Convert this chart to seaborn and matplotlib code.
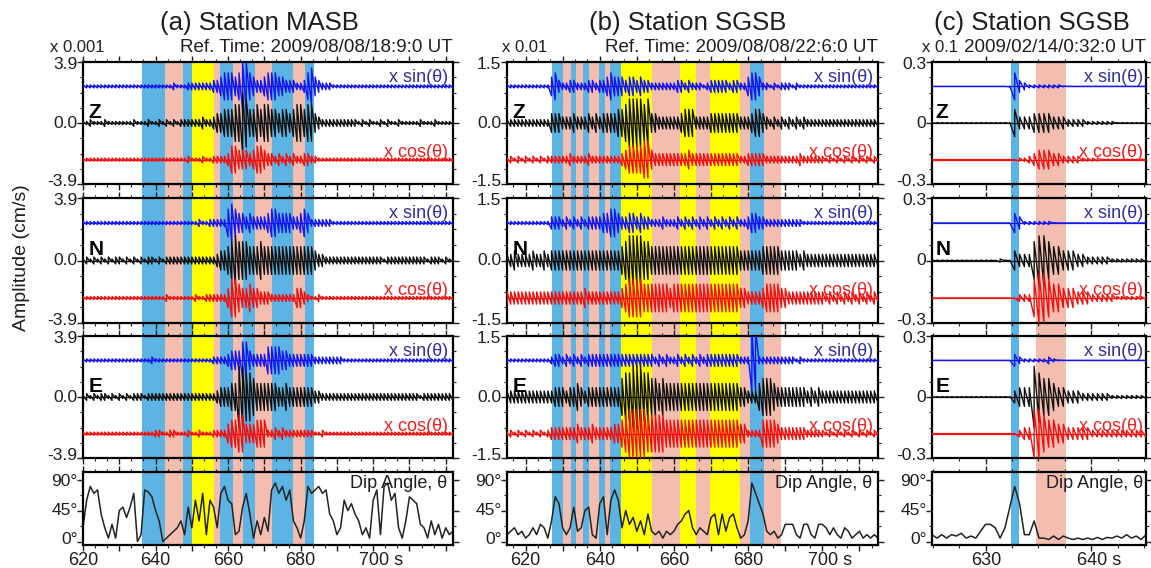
import numpy as np
import matplotlib
matplotlib.use("Agg")
import matplotlib.pyplot as plt
from matplotlib.ticker import FixedLocator, FixedFormatter, MultipleLocator, NullFormatter
import seaborn as sns

sns.set_theme(style="ticks")
plt.rcParams["font.family"] = ["Liberation Sans", "DejaVu Sans"]

# ----- Data -----
# sample times (s after reference time)
t_a = np.arange(620, 723)
t_b = np.arange(615, 716)
t_c = 624.9 + 0.4614 * np.arange(45)

# trace envelopes (min/max per sample), one digit per sample
a_z_sin = "2222222222" "2222222222" "2222232223" "3333334456" "6656886544" "5666554443" "3467543332" "2222222222" "2222222222" "2222222222" "222"
a_z_raw = "2232223222" "2222322232" "2323232333" "3334334556" "6677986676" "7766566567" "7677543333" "3333332323" "2232322322" "2223222322" "222"
a_z_cos = "2222222222" "2222222222" "2222222223" "2223223333" "4665554566" "5443434343" "3443322222" "2222222222" "2222222222" "2222222222" "222"
a_n_sin = "2222222222" "2222222222" "2222222222" "2232233333" "6765545444" "4566555544" "5653333332" "2222222222" "2222222222" "2222222222" "222"
a_n_raw = "2323232323" "3232323233" "2323333333" "3333333455" "6787776667" "6666666666" "6666544333" "3333333333" "3332333333" "3333323332" "322"
a_n_cos = "2222222222" "2222222222" "2223222222" "2322333333" "5776556554" "4433333335" "5432232222" "2222222222" "2222222222" "2222222222" "222"
a_e_sin = "2222222222" "2222222223" "2222222222" "2222223333" "4555775444" "4666655444" "4444333333" "3322222222" "2222222222" "2222222222" "222"
a_e_raw = "2323233232" "3232333233" "3333333333" "3333333455" "5669988766" "6666556555" "5555443333" "3333333333" "3333333333" "3332333333" "333"
a_e_cos = "2222222222" "2222222222" "3322332223" "2232223333" "5667755566" "6334343333" "3333223222" "2222222222" "2222222222" "2222222222" "222"

b_z_sin = "22222" "2222222564" "3344333443" "4456555455" "4544333333" "3443433323" "4444434433" "5665332323" "3323222222" "2222222222" "222222"
b_z_raw = "33333" "3333333555" "4445444545" "4555566788" "8878554444" "4456664444" "5555555544" "4566543434" "3434343333" "3333333333" "333333"
b_z_cos = "23232" "3232323333" "3343333433" "3333334566" "6677544444" "4444544444" "4444444433" "4444433333" "3333433333" "3232323232" "323232"
b_n_sin = "22222" "2222222444" "3434343444" "4556654455" "4544333433" "3434343434" "3434343433" "4554433333" "3333322222" "2222222222" "222222"
b_n_raw = "44544" "4454454555" "5555555555" "5555556788" "8877666666" "6666666666" "6666666655" "5555666665" "5555454444" "4444444444" "444444"
b_n_cos = "44444" "4444444444" "4444445444" "4444445677" "7766666665" "6666666666" "6666666655" "4444566665" "5444444444" "4343434343" "434343"
b_e_sin = "22222" "2222222344" "3434343444" "4444444444" "4444434343" "3434343434" "4444444433" "3993333333" "3332322222" "2222222222" "222222"
b_e_raw = "44444" "4444444455" "5455654555" "5555557889" "9988776766" "6666666666" "6666666655" "4446777655" "5555554545" "4444444444" "444444"
b_e_cos = "23232" "3232323444" "4444544454" "4444556788" "8887777766" "6666666666" "6666666655" "3333666654" "4444443333" "3232323232" "323232"

c_z_sin = "0000000000000000" "164322222221" "00000000000000000"
c_z_raw = "1111111111111111" "1644455554443333222222" "1111111"
c_z_cos = "000000000000000000" "22345554433332222" "1111111111"
c_n_sin = "00000000000000000" "542222221" "0000000000000000000"
c_n_raw = "11111111111111" "211544478876655544333332" "2222222"
c_n_cos = "000000000000000000" "33378876655544433333" "2222222"
c_e_sin = "00000000000000000" "4322222321" "000000000000000000"
c_e_raw = "11111111111111111" "455598776554443333332" "2222222"
c_e_cos = "000000000000000000" "3448876655444443" "33333333333"

# dip angle (degrees)
dip_a = [20, 60, 80, 70, 75, 40, 20, 5, 25, 5,
         45, 50, 35, 50, 70, 0, 10, 75, 72, 65,
         45, 30, 0, 5, 10, 15, 20, 30, 10, 50,
         20, 60, 30, 70, 10, 60, 50, 20, 70, 80,
         60, 55, 10, 15, 50, 70, 40, 5, 30, 10,
         35, 15, 75, 85, 70, 80, 60, 75, 30, 20,
         5, 30, 80, 70, 75, 80, 70, 75, 40, 30,
         10, 20, 60, 45, 55, 40, 30, 10, 20, 5,
         60, 75, 10, 80, 85, 60, 70, 20, 5, 30,
         65, 60, 55, 25, 20, 5, 30, 10, 25, 5,
         20, 10, 15]
dip_b = [10, 15, 20, 10, 15,
         5, 10, 20, 10, 25, 20, 5, 30, 65, 55,
         20, 10, 20, 50, 15, 20, 45, 50, 10, 5,
         55, 65, 10, 60, 75, 60, 20, 45, 25, 35,
         15, 30, 10, 40, 15, 10, 15, 5, 15, 10,
         15, 25, 30, 40, 45, 20, 10, 20, 15, 10,
         35, 40, 10, 40, 15, 35, 40, 20, 5, 10,
         30, 85, 70, 55, 40, 15, 10, 15, 5, 10,
         25, 25, 25, 10, 5, 25, 25, 10, 5, 25,
         25, 20, 10, 20, 10, 5, 20, 15, 5, 10,
         15, 5, 10, 5, 10, 5]
dip_c = [10, 5, 10, 5, 10, 8, 12, 5, 8, 5,
         15, 25, 25, 20, 5, 20, 50, 80, 55, 10,
         10, 30, 5, 5, 3, 8, 3, 8, 5, 3,
         5, 3, 5, 3, 6, 3, 6, 5, 8, 5,
         10, 5, 8, 3, 10]

# shaded windows
band_kind_a = ["b", "p", "b", "y", "p", "b", "p", "b", "p", "b", "p", "b"]
band_start_a = [636.4, 642.5, 647.6, 650.1, 656.0, 657.8, 661.3, 664.0, 667.5, 672.0, 678.0, 681.3]
band_end_a = [642.5, 647.6, 650.1, 656.0, 657.8, 661.3, 664.0, 667.5, 672.0, 678.0, 681.3, 683.7]
band_kind_b = ["b", "p", "b", "p", "b", "p", "b", "p", "b", "y", "p", "y", "p", "y", "p", "b", "p"]
band_start_b = [627.1, 630.1, 632.2, 633.7, 635.5, 637.1, 639.7, 641.3, 642.7, 645.8, 654.1, 661.5, 665.9, 669.6, 677.7, 680.4, 684.4]
band_end_b = [630.1, 632.2, 633.7, 635.5, 637.1, 639.7, 641.3, 642.7, 645.8, 654.1, 661.5, 665.9, 669.6, 677.7, 680.4, 684.4, 688.9]
band_kind_c = ["b", "p"]
band_start_c = [632.4, 634.75]
band_end_c = [633.2, 637.6]

titles = ["(a) Station MASB", "(b) Station SGSB", "(c) Station SGSB"]
ref_times = ["Ref. Time: 2009/08/08/18:9:0 UT", "Ref. Time: 2009/08/08/22:6:0 UT", "2009/02/14/0:32:0 UT"]
scales = ["x 0.001", "x 0.01", "x 0.1"]
ranges = [3.9, 1.5, 0.3]
ylabels = [["-3.9", "0.0", "3.9"], ["-1.5", "0.0", "1.5"], ["-0.3", "0", "0.3"]]
dip_labels = ["0°", "45°", "90°"]
components = ["Z", "N", "E"]

# ----- Layout (pixels of the 1151x568 figure) -----
W, H = 1151, 568
col_x = [(83, 453), (507, 878), (932, 1146)]
row_y = [(62, 184), (198, 323), (336, 458), (472, 545)]
title_x = [259, 688, 1032]
scale_x = [50, 502, 922]
xlims = [(620, 722), (615, 715), (624.9, 645.2)]
band_colors = {"b": "#5cb4e4", "p": "#f3beaf", "y": "#ffff00"}
ink = "#1e1e1e"


def rect(x0, x1, y0, y1):
    return [x0 / W, 1 - y1 / H, (x1 - x0) / W, (y1 - y0) / H]


def env(code, R):
    d = np.array([int(c) for c in code], dtype=float)
    return R * 0.5 * (d / 9.0) ** 2


def trace(ax, t, code, base, R, color):
    # min/max decimated waveform: each sample is drawn from its minimum to its
    # maximum and joined to the next sample's minimum (as seismic plotters do)
    a = env(code, R)
    xs = np.repeat(t, 2)
    ys = np.column_stack([base - a, base + a]).ravel()
    ax.plot(xs, ys, color=color, lw=1.0, zorder=3)
    ax.plot(t, np.full(len(t), base), color=color, lw=0.9, zorder=3)


def y_labels(ax, ticks, texts):
    # tick labels nudged inwards so neighbouring panels do not collide
    ax.yaxis.set_major_formatter(NullFormatter())
    for i, (v, s) in enumerate(zip(ticks, texts)):
        dy = 1.5 if i == 0 else (-1.5 if i == len(ticks) - 1 else 0)
        ax.annotate(s, xy=(0, v), xycoords=("axes fraction", "data"),
                    xytext=(-4, dy), textcoords="offset points",
                    ha="right", va="center", fontsize=12.5, color=ink)


def style_axes(ax, col, bottom):
    for s in ax.spines.values():
        s.set_linewidth(1.6)
        s.set_color("black")
    ax.set_facecolor("none")
    ax.tick_params(which="both", direction="out", top=True, right=True,
                   color=ink, labelcolor=ink, labelsize=13, pad=1)
    ax.tick_params(which="major", length=4, width=1)
    ax.tick_params(which="minor", length=2.5, width=0.8)
    if col < 2:
        hi = xlims[col][1]
        majors = list(range(620, int(hi) + 1, 10))
        labels = []
        for m in majors:
            if m == 700:
                labels.append("   700 s")
            elif m % 20 == 0 and m < 700:
                labels.append(str(m))
            else:
                labels.append("")
        ax.xaxis.set_minor_locator(MultipleLocator(10 / 3))
    else:
        majors = [630, 640]
        labels = ["630", "   640 s"]
        ax.xaxis.set_minor_locator(MultipleLocator(2.5))
    ax.xaxis.set_major_locator(FixedLocator(majors))
    ax.xaxis.set_major_formatter(FixedFormatter(labels if bottom else [""] * len(majors)))
    ax.set_xlim(*xlims[col])
    ax.set_xlabel("")
    ax.set_ylabel("")


fig = plt.figure(figsize=(W / 100, H / 100), dpi=100)

times = [t_a, t_b, t_c]
codes = [
    [(a_z_sin, a_z_raw, a_z_cos), (a_n_sin, a_n_raw, a_n_cos), (a_e_sin, a_e_raw, a_e_cos)],
    [(b_z_sin, b_z_raw, b_z_cos), (b_n_sin, b_n_raw, b_n_cos), (b_e_sin, b_e_raw, b_e_cos)],
    [(c_z_sin, c_z_raw, c_z_cos), (c_n_sin, c_n_raw, c_n_cos), (c_e_sin, c_e_raw, c_e_cos)],
]
dips = [dip_a, dip_b, dip_c]
bands = [(band_kind_a, band_start_a, band_end_a),
         (band_kind_b, band_start_b, band_end_b),
         (band_kind_c, band_start_c, band_end_c)]

for col in range(3):
    x0, x1 = col_x[col]
    # shaded windows run through the whole column
    bg = fig.add_axes(rect(x0, x1, row_y[0][0], row_y[3][1]))
    bg.set_xlim(*xlims[col])
    bg.axis("off")
    for k, s, e in zip(*bands[col]):
        bg.axvspan(s, e, color=band_colors[k], lw=0)

    R = ranges[col]
    t = times[col]
    for row in range(3):
        y0, y1 = row_y[row]
        ax = fig.add_axes(rect(x0, x1, y0, y1))
        sin_c, raw_c, cos_c = codes[col][row]
        trace(ax, t, sin_c, 0.6 * R, R, "#1515f0")
        trace(ax, t, raw_c, 0.0, R, "#111111")
        trace(ax, t, cos_c, -0.6 * R, R, "#f01010")
        ax.set_ylim(-R, R)
        ax.yaxis.set_major_locator(FixedLocator([-R, 0, R]))
        ax.yaxis.set_minor_locator(MultipleLocator(R / 4))
        style_axes(ax, col, bottom=False)
        y_labels(ax, [-R, 0, R], ylabels[col])
        ax.text(0.015, 0.59, components[row], transform=ax.transAxes, fontsize=15,
                fontweight="bold", color="black", va="center", ha="left")
        ax.text(0.987, 0.875, "x sin(θ)", transform=ax.transAxes, fontsize=13,
                color="#30309a", va="center", ha="right")
        ax.text(0.987, 0.262, "x cos(θ)", transform=ax.transAxes, fontsize=13,
                color="#f02020", va="center", ha="right")

    y0, y1 = row_y[3]
    ax = fig.add_axes(rect(x0, x1, y0, y1))
    sns.lineplot(x=t, y=np.array(dips[col], dtype=float), ax=ax, color="#222222",
                 lw=1.1, errorbar=None)
    ax.set_ylim(-5, 101)
    ax.yaxis.set_major_locator(FixedLocator([0, 45, 90]))
    ax.yaxis.set_minor_locator(MultipleLocator(22.5))
    style_axes(ax, col, bottom=True)
    y_labels(ax, [0, 45, 90], dip_labels)
    ax.text(0.985, 0.84, "Dip Angle, θ", transform=ax.transAxes, fontsize=13,
            color=ink, va="center", ha="right")

    # headers
    fig.text(title_x[col] / W, 1 - 23 / H, titles[col],
             fontsize=18.5, color=ink, ha="center", va="center")
    fig.text(x1 / W, 1 - 48 / H, ref_times[col], fontsize=13.5, color=ink,
             ha="right", va="center")
    fig.text(scale_x[col] / W, 1 - 47 / H, scales[col], fontsize=12, color=ink,
             ha="left", va="center")

fig.text(22 / W, 1 - 258 / H, "Amplitude (cm/s)", rotation=90, fontsize=14,
         color=ink, ha="center", va="center")

fig.savefig("out.png", dpi=100)
